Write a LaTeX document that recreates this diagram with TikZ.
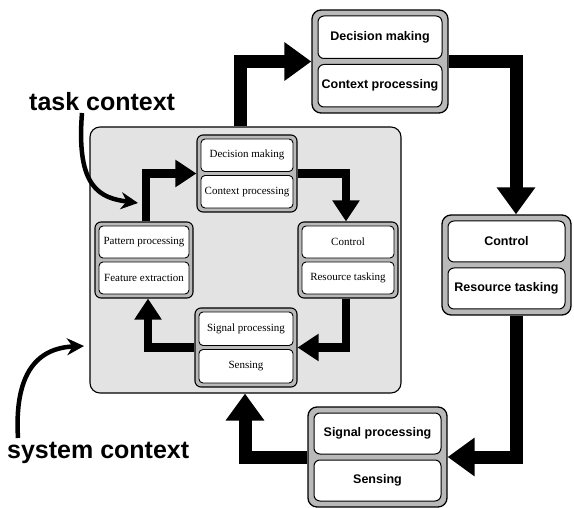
\documentclass[tikz,border=0pt]{standalone}
\usepackage{fontspec}
\setmainfont{Liberation Serif}
\newfontfamily\labelsans{Liberation Sans}
\usetikzlibrary{arrows.meta}

\begin{document}
\begin{tikzpicture}[x=1pt,y=-1pt,
  line join=miter,
  panel/.style={draw=black, line width=1.3pt, fill=gray!55, rounded corners=9pt, inner sep=0pt},
  ipanel/.style={draw=black, line width=1.1pt, fill=gray!55, rounded corners=6pt, inner sep=0pt},
  ocell/.style={draw=black, line width=1pt, fill=white, rounded corners=6pt, inner sep=0pt,
    font=\labelsans\bfseries\fontsize{12.5}{14}\selectfont},
  icell/.style={draw=black, line width=0.9pt, fill=white, rounded corners=4pt, inner sep=0pt,
    font=\fontsize{11}{13}\selectfont},
  sysarea/.style={draw=black, line width=1.1pt, fill=gray!22, rounded corners=10pt, inner sep=0pt},
  flow/.style={line width=13pt, -{Triangle[length=27pt,width=37pt]}},
  iflow/.style={line width=8.5pt, -{Triangle[length=21pt,width=26pt]}},
  pointer/.style={line width=4.5pt, -{Stealth[length=17pt,width=17pt]}},
  ctxlabel/.style={font=\labelsans\bfseries\fontsize{25}{30}\selectfont, inner sep=0pt, anchor=base west}
]
\useasboundingbox (0,0) rectangle (574,508);

% system context area
\node[sysarea, minimum width=311pt, minimum height=266pt] (sys) at (245.5,260) {};

% inner loop: panels
\node[ipanel, minimum width=100pt, minimum height=77pt] (iDM)  at (247,173.5) {};
\node[ipanel, minimum width=98pt,  minimum height=76pt] (iPat) at (144,260) {};
\node[ipanel, minimum width=100pt, minimum height=76pt] (iCtl) at (348,260) {};
\node[ipanel, minimum width=102pt, minimum height=79pt] (iSig) at (246,347.5) {};

% inner loop: cells
\node[icell, minimum width=92pt, minimum height=32.5pt] (iDMa) at (247,155.25) {Decision making};
\node[icell, minimum width=92pt, minimum height=32.5pt] (iDMb) at (247,191.75) {Context processing};
\node[icell, minimum width=90pt, minimum height=32pt] (iPata) at (144,242) {Pattern processing};
\node[icell, minimum width=90pt, minimum height=32pt] (iPatb) at (144,278) {Feature extraction};
\node[icell, minimum width=92pt, minimum height=32pt] (iCtla) at (348,242) {Control};
\node[icell, minimum width=92pt, minimum height=32pt] (iCtlb) at (348,278) {Resource tasking};
\node[icell, minimum width=94pt, minimum height=33.5pt] (iSiga) at (246,328.75) {Signal processing};
\node[icell, minimum width=94pt, minimum height=33.5pt] (iSigb) at (246,366.25) {Sensing};

% outer loop: panels
\node[panel, minimum width=136pt, minimum height=103pt] (oDM)  at (380,61.5) {};
\node[panel, minimum width=129pt, minimum height=100pt] (oCtl) at (506.5,265) {};
\node[panel, minimum width=139pt, minimum height=100pt] (oSig) at (377.5,457) {};

% outer loop: cells
\node[ocell, minimum width=124pt, minimum height=42.5pt] (oDMa) at (380,37.25) {Decision making};
\node[ocell, minimum width=124pt, minimum height=42.5pt] (oDMb) at (380,85.75) {Context processing};
\node[ocell, minimum width=117pt, minimum height=41pt] (oCtla) at (506.5,241.5) {Control};
\node[ocell, minimum width=117pt, minimum height=41pt] (oCtlb) at (506.5,288.5) {Resource tasking};
\node[ocell, minimum width=127pt, minimum height=41pt] (oSiga) at (377.5,433.5) {Signal processing};
\node[ocell, minimum width=127pt, minimum height=41pt] (oSigb) at (377.5,480.5) {Sensing};

% x positions of the vertical arrow legs
\coordinate (c1) at (240,0);
\coordinate (c2) at (516,0);
\coordinate (c4) at (245,0);
\coordinate (c5) at (146,0);
\coordinate (c6) at (346,0);
\coordinate (c8) at (148,0);

% outer loop arrows
\draw[flow] (sys.north -| c1) |- (oDM.west);
\draw[flow] (oDM.east) -| (oCtl.north -| c2);
\draw[flow] (oCtl.south -| c2) |- (oSig.east);
\draw[flow] (oSig.west) -| (sys.south -| c4);

% inner loop arrows
\draw[iflow] (iPat.north -| c5) |- (iDM.west);
\draw[iflow] (iDM.east) -| (iCtl.north -| c6);
\draw[iflow] (iCtl.south -| c6) |- (iSig.east);
\draw[iflow] (iSig.west) -| (iPat.south -| c8);

% context labels and their pointers
\node[ctxlabel] (tc) at (29,111) {task context};
\node[ctxlabel] (sc) at (7,458) {system context};
\coordinate (tcTail) at (82,113);
\coordinate (tcHead) at (138,203);
\coordinate (scTail) at (18,438);
\coordinate (scHead) at (84,346);
\draw[pointer] (tcTail) .. controls (76,188) and (100,198) .. (tcHead);
\draw[pointer] (scTail) .. controls (14,372) and (38,348) .. (scHead);
\end{tikzpicture}
\end{document}
